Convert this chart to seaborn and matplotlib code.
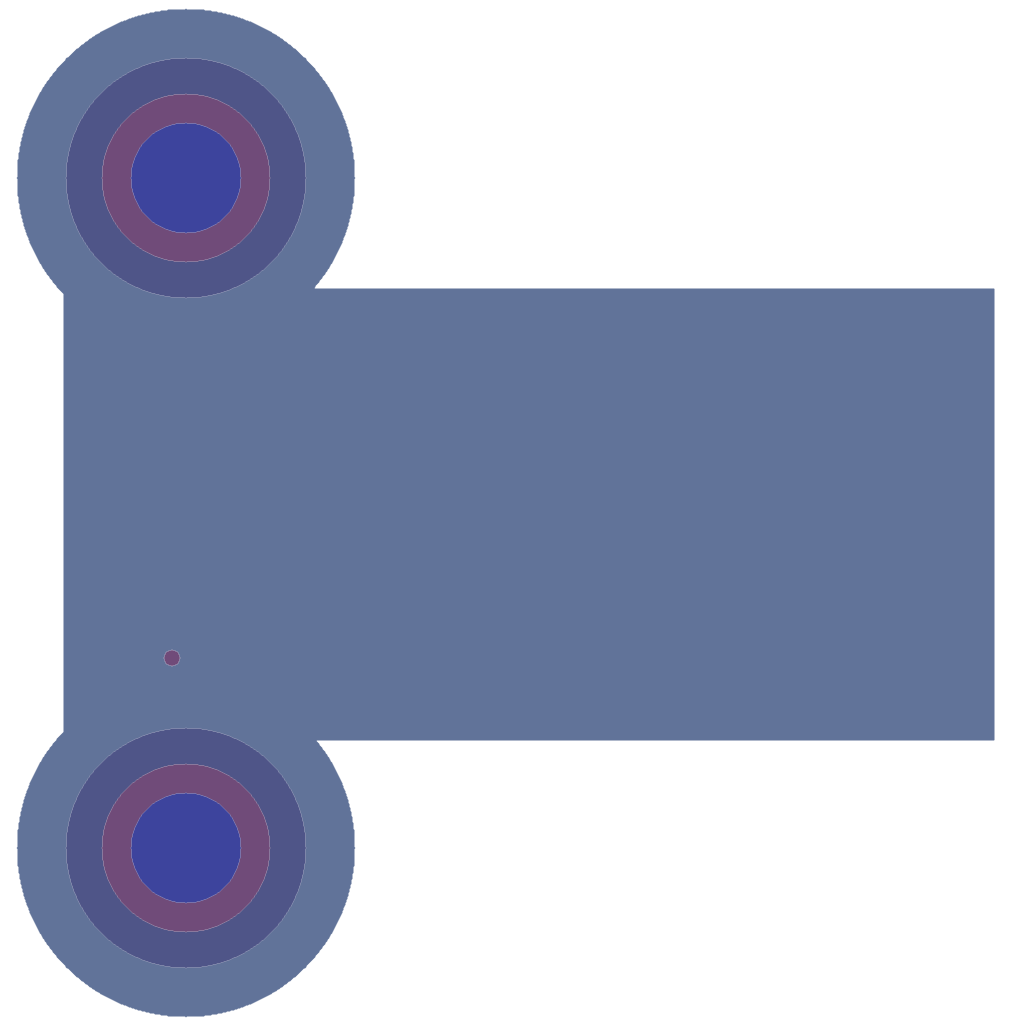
import numpy as np
import matplotlib
matplotlib.use("Agg")
import matplotlib.pyplot as plt
import seaborn as sns

# Band colours, outermost to innermost
band_colors = ["#617399", "#4f5588", "#704b79", "#3d449d"]

# Two ringed blobs (centres in picture coordinates, y grows downwards)
blob_x = [186, 186]
blob_y = [178, 848]
blob_radii = [169, 120, 84, 55]   # outer edge of level 1, 2, 3, 4

# Plateau rectangle (level 1)
rect_x = [64, 994]
rect_y = [289, 740]

# Small spot (level 3)
spot_x = [172]
spot_y = [658]
spot_r = [8]
spot_level = [3]

sns.set_style("white")

# Build the level field on a fine grid
gx = np.linspace(0, 1024, 1025)
gy = np.linspace(0, 1024, 1025)
X, Y = np.meshgrid(gx, gy)
Z = np.zeros_like(X)

inside_rect = (X >= rect_x[0]) & (X <= rect_x[1]) & (Y >= rect_y[0]) & (Y <= rect_y[1])
Z = np.maximum(Z, inside_rect * 1.0)

for cx, cy in zip(blob_x, blob_y):
    d = np.hypot(X - cx, Y - cy)
    lvl = sum((d <= r).astype(float) for r in blob_radii)
    Z = np.maximum(Z, lvl)

for cx, cy, r, lv in zip(spot_x, spot_y, spot_r, spot_level):
    d = np.hypot(X - cx, Y - cy)
    Z = np.maximum(Z, (d <= r) * float(lv))

fig = plt.figure(figsize=(10.24, 10.24), dpi=100)
ax = fig.add_axes([0, 0, 1, 1])
ax.contourf(X, Y, Z, levels=[0.5, 1.5, 2.5, 3.5, 4.5],
            colors=sns.color_palette(band_colors), antialiased=True)
ax.set_xlim(0, 1024)
ax.set_ylim(1024, 0)
ax.set_axis_off()

fig.savefig("out.png", dpi=100, facecolor="white")
